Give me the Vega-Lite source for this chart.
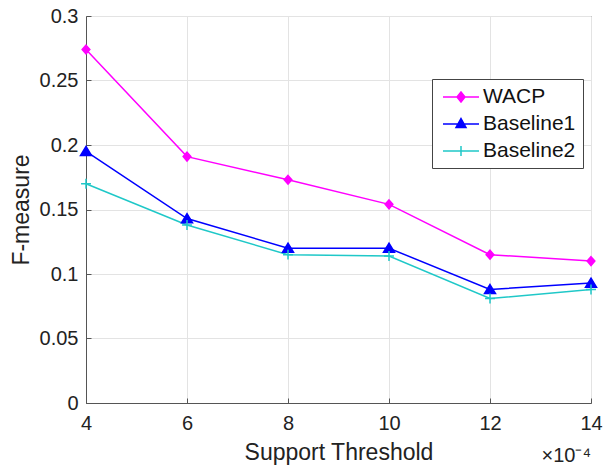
{
  "$schema": "https://vega.github.io/schema/vega-lite/v6.json",
  "width": 505,
  "height": 387,
  "autosize": {"type": "none"},
  "padding": {"left": 86, "top": 16, "right": 12, "bottom": 65},
  "background": "white",
  "title": {
    "text": "×10⁻⁴",
    "orient": "bottom",
    "anchor": "end",
    "frame": "group",
    "offset": -18,
    "font": "Liberation Sans",
    "fontSize": 20,
    "fontWeight": "normal",
    "color": "#222"
  },
  "config": {
    "view": {"stroke": "#555", "strokeWidth": 1},
    "axis": {
      "domainColor": "#555",
      "tickColor": "#555",
      "gridColor": "#e3e3e3",
      "gridWidth": 1,
      "labelFont": "Liberation Sans",
      "labelFontSize": 20,
      "labelColor": "#222",
      "titleFont": "Liberation Sans",
      "titleFontSize": 23,
      "titleFontWeight": "normal",
      "titleColor": "#222"
    },
    "legend": {
      "labelFont": "Liberation Sans",
      "labelFontSize": 21,
      "labelColor": "#111",
      "strokeColor": "#444",
      "fillColor": "white",
      "padding": 7,
      "rowPadding": 6,
      "symbolSize": 400,
      "symbolOffset": 11,
      "symbolStrokeWidth": 1.5,
      "labelOffset": 11
    }
  },
  "data": {
    "values": [
      {"x": 4, "f": 0.274, "series": "WACP"},
      {"x": 6, "f": 0.191, "series": "WACP"},
      {"x": 8, "f": 0.173, "series": "WACP"},
      {"x": 10, "f": 0.154, "series": "WACP"},
      {"x": 12, "f": 0.115, "series": "WACP"},
      {"x": 14, "f": 0.110, "series": "WACP"},
      {"x": 4, "f": 0.195, "series": "Baseline1"},
      {"x": 6, "f": 0.143, "series": "Baseline1"},
      {"x": 8, "f": 0.120, "series": "Baseline1"},
      {"x": 10, "f": 0.120, "series": "Baseline1"},
      {"x": 12, "f": 0.088, "series": "Baseline1"},
      {"x": 14, "f": 0.093, "series": "Baseline1"},
      {"x": 4, "f": 0.170, "series": "Baseline2"},
      {"x": 6, "f": 0.138, "series": "Baseline2"},
      {"x": 8, "f": 0.115, "series": "Baseline2"},
      {"x": 10, "f": 0.114, "series": "Baseline2"},
      {"x": 12, "f": 0.081, "series": "Baseline2"},
      {"x": 14, "f": 0.088, "series": "Baseline2"}
    ]
  },
  "encoding": {
    "x": {
      "field": "x",
      "type": "quantitative",
      "scale": {"domain": [4, 14], "nice": false, "zero": false},
      "axis": {
        "title": "Support Threshold",
        "values": [4, 6, 8, 10, 12, 14],
        "tickSize": -5,
        "labelPadding": 15,
        "titlePadding": 8,
        "labelFlush": false,
        "grid": true
      }
    },
    "y": {
      "field": "f",
      "type": "quantitative",
      "scale": {"domain": [0, 0.3], "nice": false},
      "axis": {
        "title": "F-measure",
        "values": [0, 0.05, 0.1, 0.15, 0.2, 0.25, 0.3],
        "format": "~g",
        "tickSize": -5,
        "labelPadding": 13,
        "titlePadding": 6,
        "labelFlush": false,
        "grid": true
      }
    }
  },
  "layer": [
    {
      "mark": {"type": "line", "strokeWidth": 1.5},
      "encoding": {
        "color": {
          "field": "series",
          "type": "nominal",
          "scale": {"domain": ["WACP", "Baseline1", "Baseline2"], "range": ["#ff00ff", "#0000ff", "#1fc8c8"]},
          "legend": null
        }
      }
    },
    {
      "mark": {"type": "point", "size": 121, "strokeWidth": 1.5, "opacity": 1},
      "encoding": {
        "stroke": {
          "field": "series",
          "type": "nominal",
          "scale": {"domain": ["WACP", "Baseline1", "Baseline2"], "range": ["#ff00ff", "#0000ff", "#1fc8c8"]},
          "legend": null
        },
        "fill": {
          "field": "series",
          "type": "nominal",
          "scale": {"domain": ["WACP", "Baseline1", "Baseline2"], "range": ["#ff00ff", "#0000ff", "#1fc8c8"]},
          "legend": null
        },
        "shape": {
          "field": "series",
          "type": "nominal",
          "scale": {"domain": ["WACP", "Baseline1", "Baseline2"], "range": ["M0,-0.8L0.7,0L0,0.8L-0.7,0Z", "M0,-0.9L1,0.75L-1,0.75Z", "M-0.9,0L0.9,0M0,-0.9L0,0.9"]},
          "legend": null
        }
      }
    },
    {
      "transform": [{"filter": "datum.x < 0"}],
      "mark": {"type": "point", "size": 400, "strokeWidth": 1.5, "opacity": 1},
      "encoding": {
        "stroke": {
          "field": "series",
          "type": "nominal",
          "scale": {"domain": ["WACP", "Baseline1", "Baseline2"], "range": ["#ff00ff", "#0000ff", "#1fc8c8"]},
          "legend": {"title": null, "orient": "none", "legendX": 346, "legendY": 63}
        },
        "fill": {
          "field": "series",
          "type": "nominal",
          "scale": {"domain": ["WACP", "Baseline1", "Baseline2"], "range": ["#ff00ff", "#0000ff", "#1fc8c8"]},
          "legend": {"title": null, "orient": "none", "legendX": 346, "legendY": 63}
        },
        "shape": {
          "field": "series",
          "type": "nominal",
          "scale": {"domain": ["WACP", "Baseline1", "Baseline2"], "range": ["M-1.8,0L1.8,0M0,-0.5L0.4,0L0,0.5L-0.4,0Z", "M-1.8,0L1.8,0M0,-0.55L0.5,0.35L-0.5,0.35Z", "M-1.8,0L1.8,0M0,-0.5L0,0.5"]},
          "legend": {"title": null, "orient": "none", "legendX": 346, "legendY": 63}
        }
      }
    }
  ],
  "resolve": {"scale": {"shape": "independent", "fill": "independent", "stroke": "independent"}}
}
